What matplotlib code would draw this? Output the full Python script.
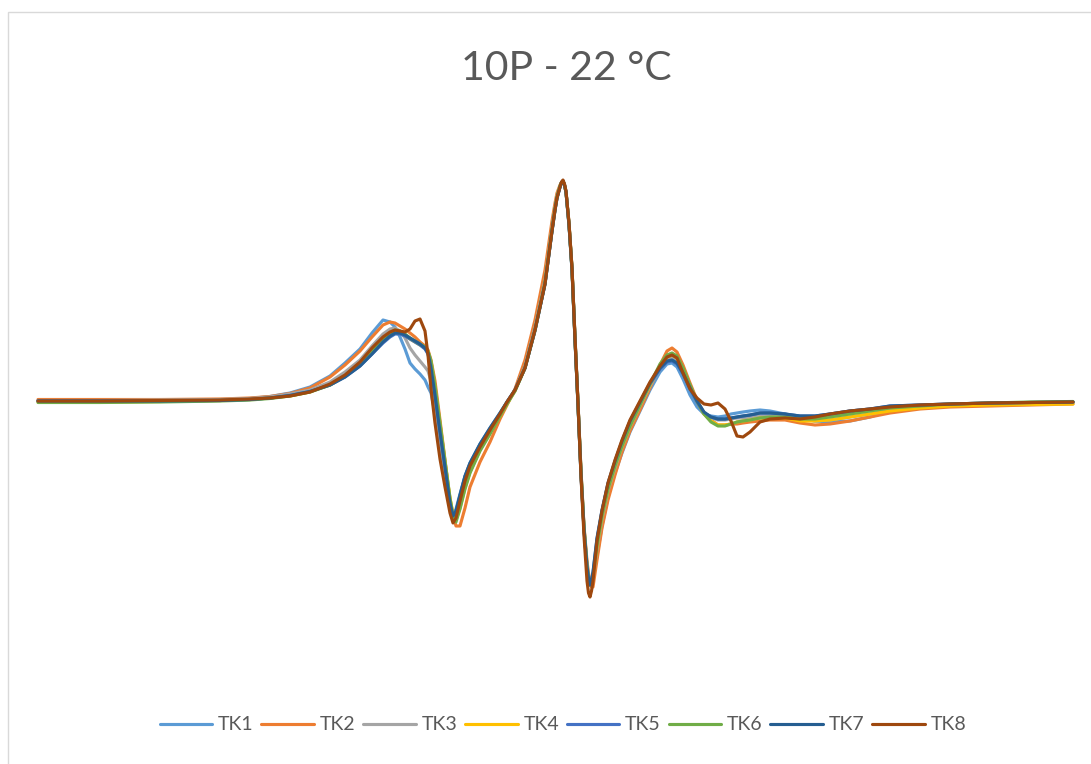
import matplotlib
matplotlib.use("Agg")
import matplotlib.pyplot as plt
from matplotlib.patches import Rectangle

plt.rcParams['font.family'] = ['Lato', 'DejaVu Sans']

title = "10P - 22 °C"
series_names = ["TK1", "TK2", "TK3", "TK4", "TK5", "TK6", "TK7", "TK8"]
colors = ["#5B9BD5", "#ED7D31", "#A5A5A5", "#FFC000", "#4472C4", "#70AD47", "#255E91", "#9E480E"]

field = [38, 100, 160, 220, 250, 270, 290, 310, 330, 345,
         360, 372, 383, 390, 395, 400, 405, 410, 415, 420,
         425, 428, 431, 435, 440, 445, 450, 453, 456, 460,
         465, 470, 480, 490, 500, 507, 515, 525, 535, 545,
         552, 555, 557, 560, 561.5, 563, 564.5, 566, 569, 572, 575, 578, 581,
         584, 587, 588.5, 590, 591.5, 593, 597, 602, 608, 615, 622, 630,
         640, 650, 660, 667, 672, 677, 683, 690, 697, 704,
         711, 718, 725, 731, 737, 743, 750, 760, 770, 785,
         800, 815, 830, 850, 870, 890, 920, 950, 990, 1030,
         1073]

tk1 = [0, 0, 0.5, 1, 2.5, 4.5, 8, 14, 25, 38,
       52, 68, 81, 79, 74, 64, 52, 38, 32, 27,
       21, 14, 8, -12, -40, -75, -108, -114, -108, -93,
       -75, -62, -43, -27, -12, -1, 11, 33, 70, 117,
       170, 191, 203, 214, 218.5, 220, 216, 209, 177, 133, 64, -2, -70,
       -126, -163, -175, -182, -182, -178, -155, -125, -96, -72, -52, -31,
       -10, 11, 29, 37, 38, 34, 22, 6, -6, -13,
       -15, -16, -15, -13, -12, -11, -10, -9, -10, -13,
       -17, -20, -21, -20, -16, -10, -6, -4, -3, -2,
       -1]

tk2 = [1.5, 1.5, 1.5, 2, 3, 4.5, 7.5, 13, 24, 36,
       50, 64, 76, 79, 78, 75, 72, 68, 64, 59,
       55, 51, 41, 20, -19, -59, -99, -115, -125, -125,
       -107, -86, -61, -41, -18, -4, 12, 41, 81, 131,
       180, 198, 208, 216, 218.5, 220, 216, 209, 178, 133, 64, -2, -70,
       -125, -160, -172, -180, -186, -186, -159, -127, -99, -74, -51, -30,
       -9, 13, 36, 50, 53, 49, 36, 18, 1, -12,
       -19, -24, -24, -23, -23, -22, -21, -20, -19, -19,
       -22, -24, -23, -20, -16, -12, -8, -6, -5, -4,
       -3]

tk3 = [0.5, 0.5, 1, 1.5, 2.5, 4, 7, 11, 19, 29,
       41, 55, 67, 72, 73, 70, 63, 53, 46, 40,
       34, 30, 20, -2, -35, -70, -105, -117, -114, -99,
       -80, -66, -47, -30, -14, -2, 11, 35, 74, 121,
       173, 193, 205, 215, 218.5, 220, 216, 209, 177, 132, 62, -3, -72,
       -127, -164, -176, -183, -182, -176, -148, -118, -90, -67, -46, -26,
       -5, 15, 32, 41, 43, 40, 29, 13, -1, -12,
       -17, -19, -19, -18, -17, -17, -16, -15, -15, -16,
       -18, -20, -19, -16, -13, -9, -6, -4, -3, -2,
       -2]

tk4 = [-1, -1, -0.5, 0.5, 1.5, 3, 5, 9, 16, 25,
       37, 50, 62, 68, 70, 69, 66, 62, 59, 56,
       53, 49, 39, 14, -23, -61, -97, -113, -119, -107,
       -87, -71, -49, -32, -15, -3, 10, 33, 71, 118,
       171, 192, 204, 215, 218.5, 220, 216, 209, 177, 132, 62, -3, -72,
       -127, -165, -177, -184, -182, -175, -145, -115, -88, -65, -45, -25,
       -4, 16, 35, 44, 46, 43, 32, 15, 0, -13,
       -20, -24, -24, -23, -21, -20, -19, -17, -17, -17,
       -20, -20, -19, -16, -13, -10, -7, -5, -4, -3.5,
       -3]

tk5 = [0, 0, 0, 0.5, 1.5, 3, 5.5, 9.5, 16, 24,
       35, 47, 58, 64, 67, 67, 65, 62, 59, 56,
       52, 47, 32, 5, -31, -66, -102, -115, -111, -95,
       -76, -63, -44, -28, -13, -1, 11, 33, 71, 117,
       170, 191, 203, 214, 218.5, 220, 216, 209, 176, 131, 61, -4, -74,
       -129, -166, -177, -184, -180, -172, -138, -110, -83, -61, -41, -21,
       -2, 17, 32, 39, 40, 37, 27, 12, -1, -12,
       -16, -18, -18, -17, -16, -15, -14, -12, -12, -13,
       -15, -15, -13, -10, -8, -5, -4, -3, -2, -1.5,
       -1]

tk6 = [-1.5, -1.5, -1, 0, 1, 2.5, 5, 9, 16, 25,
       37, 50, 62, 68, 71, 70, 67, 63, 60, 57,
       54, 50, 40, 15, -22, -60, -97, -114, -121, -108,
       -88, -72, -50, -33, -15, -3, 10, 33, 71, 118,
       171, 192, 204, 215, 218.5, 220, 216, 209, 177, 132, 62, -3, -72,
       -127, -165, -177, -184, -182, -175, -145, -115, -88, -65, -45, -25,
       -4, 17, 37, 46, 48, 45, 33, 16, 0, -13,
       -21, -25, -25, -23, -21, -20, -19, -17, -16, -16,
       -18, -18, -16, -13, -10, -7, -5, -3, -2, -1,
       -0.5]

tk7 = [0, 0, 0, 0.5, 1.5, 3, 5.5, 9.5, 16, 24,
       35, 47, 59, 65, 68, 68, 66, 63, 60, 57,
       53, 48, 33, 6, -31, -66, -102, -115, -110, -94,
       -75, -62, -43, -27, -12, -1, 11, 33, 71, 117,
       170, 191, 203, 214, 218.5, 220, 216, 209, 176, 131, 61, -4, -74,
       -129, -166, -177, -184, -179, -171, -137, -109, -82, -60, -40, -20,
       -1, 18, 33, 40, 41, 38, 28, 13, 0, -11,
       -16, -18, -18, -17, -16, -15, -14, -12, -12, -13,
       -15, -15, -13, -10, -8, -5, -4, -3, -2, -1.5,
       -1]

tk8 = [0, 0, 0.5, 1, 2, 3, 5, 9, 17, 26,
       39, 53, 64, 69, 71, 70, 69, 72, 80, 82,
       70, 46, 12, -22, -58, -86, -112, -122, -117, -100,
       -80, -65, -46, -29, -13, -1, 11, 33, 71, 117,
       170, 191, 203, 214, 219, 221, 217, 210, 178, 133, 63, -2, -75,
       -135, -180, -192, -196, -190, -180, -140, -110, -82, -59, -39, -19,
       0, 19, 35, 44, 46, 43, 28, 12, 3, -3,
       -4, -2, -8, -20, -35, -36, -31, -21, -18, -17,
       -18, -16, -13, -10, -8, -6, -4, -3, -2, -1.5,
       -1]

all_series = [tk1, tk2, tk3, tk4, tk5, tk6, tk7, tk8]

W, H = 1091, 764
fig = plt.figure(figsize=(W / 100, H / 100), dpi=100)
fig.patch.set_facecolor("white")

ax = fig.add_axes([0, 0, 1, 1])
ax.set_xlim(0, W)
ax.set_ylim(401 - H, 401)
ax.axis("off")

handles = []
for name, ys, col in zip(series_names, all_series, colors):
    ln, = ax.plot(field, ys, color=col, lw=2.25, solid_joinstyle="round",
                  solid_capstyle="round", label=name)
    handles.append(ln)

# chart border (clipped at right/bottom as in reference)
fig.patches.append(Rectangle((8 / W, -0.05), 1.2, 1 - 12 / H + 0.05,
                             transform=fig.transFigure, fill=False,
                             edgecolor="#D9D9D9", lw=1.0))

fig.text(566 / W, 1 - 68 / H, title, ha="center", va="center",
         fontsize=29.5, color="#595959")

leg = fig.legend(handles=handles, labels=series_names, loc="center",
                 bbox_to_anchor=(563 / W, 1 - 725 / H), ncol=8, frameon=False,
                 fontsize=14, handlelength=2.7, handletextpad=0.3,
                 columnspacing=0.4, labelcolor="#595959")
for h in leg.get_lines():
    h.set_linewidth(2.25)

fig.savefig("out.png", dpi=100, facecolor="white")
